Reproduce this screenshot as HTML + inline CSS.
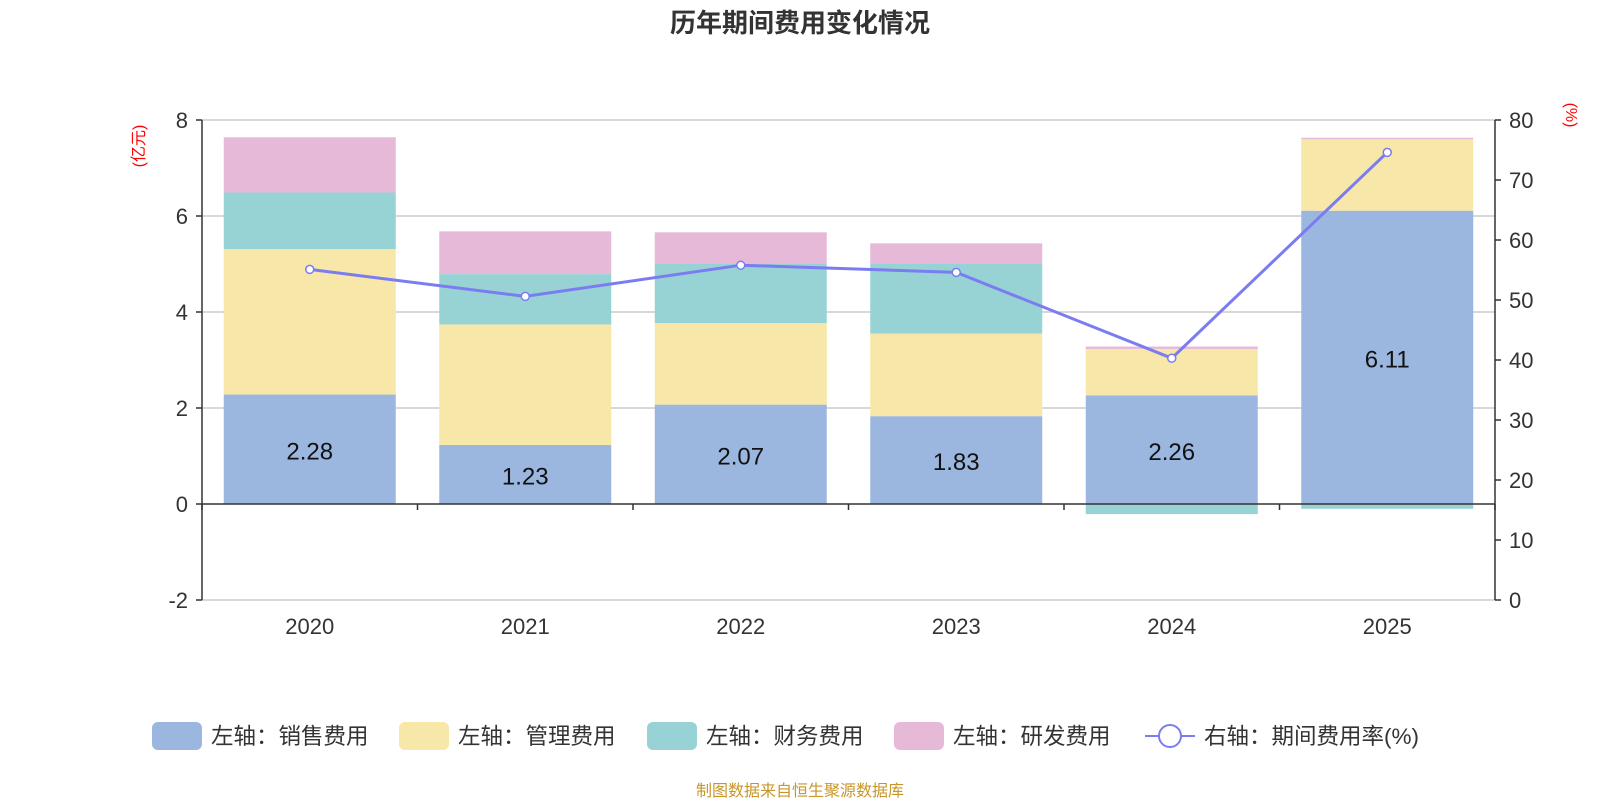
<!DOCTYPE html>
<html><head><meta charset="utf-8"><style>
body{margin:0;width:1600px;height:800px;background:#fff;font-family:"Liberation Sans","Noto Sans CJK SC",sans-serif;overflow:hidden}
</style></head><body>
<svg id="c" width="1600" height="800" style="font-family:'Liberation Sans','Noto Sans CJK SC',sans-serif"></svg>
<script>
const categories=["2020","2021","2022","2023","2024","2025"];
const sales=[2.28,1.23,2.07,1.83,2.26,6.11];
const mgmt=[3.03,2.51,1.70,1.72,0.97,1.49];
const finance=[1.18,1.05,1.23,1.45,-0.21,-0.10];
const rnd=[1.15,0.89,0.66,0.43,0.05,0.03];
const rate=[55.1,50.6,55.8,54.6,40.3,74.6];
const leftTicks=[-2,0,2,4,6,8];
const rightTicks=[0,10,20,30,40,50,60,70,80];
const svg=document.getElementById('c');const NS='http://www.w3.org/2000/svg';
function mk(t,a,p){const e=document.createElementNS(NS,t);for(const k in a)e.setAttribute(k,a[k]);(p||svg).appendChild(e);return e;}
const X0=202,X1=1495,band=(X1-X0)/categories.length,bw=172;
const yL=v=>504-v*48, yR=v=>600-v*6, xc=i=>X0+band*(i+0.5);
let t=mk('text',{x:800,y:32,'text-anchor':'middle','font-size':26,'font-weight':'bold',fill:'#333'});t.textContent='历年期间费用变化情况';

leftTicks.forEach(v=>{
 if(v!==0){const g=mk('line',{x1:X0,x2:X1,y1:yL(v),y2:yL(v),stroke:'#ccc','stroke-width':1.5});}
 mk('line',{x1:X0-6,x2:X0,y1:yL(v),y2:yL(v),stroke:'#333','stroke-width':1.5});
 const l=mk('text',{x:X0-14,y:yL(v)+8,'text-anchor':'end','font-size':22,fill:'#333'});l.textContent=v;
 
});
rightTicks.forEach(v=>{
 mk('line',{x1:X1,x2:X1+6,y1:yR(v),y2:yR(v),stroke:'#333','stroke-width':1.5});
 const l=mk('text',{x:X1+14,y:yR(v)+8,'font-size':22,fill:'#333'});l.textContent=v;
 
});
mk('line',{x1:X0,x2:X0,y1:120,y2:600,stroke:'#333','stroke-width':1.5});
mk('line',{x1:X1,x2:X1,y1:120,y2:600,stroke:'#333','stroke-width':1.5});
let u=mk('text',{transform:'translate(144,146) rotate(-90)','text-anchor':'middle','font-size':16,fill:'red'});u.textContent='(亿元)';

u=mk('text',{transform:'translate(1566,115) rotate(90)','text-anchor':'middle','font-size':16,fill:'red'});u.textContent='(%)';

const series=[[sales,'#9bb7e0','sales'],[mgmt,'#f7e7a8','mgmt'],[finance,'#97d3d4','finance'],[rnd,'#e7b9d8','rnd']];
categories.forEach((c,i)=>{
 let pos=0,neg=0;
 series.forEach(([arr,col,n])=>{
  const v=arr[i];let y0,y1;
  if(v>=0){y0=pos;pos+=v;y1=pos;}else{y0=neg;neg+=v;y1=neg;}
  const r=mk('rect',{x:xc(i)-bw/2,y:Math.min(yL(y0),yL(y1)),width:bw,height:Math.abs(yL(y1)-yL(y0)),fill:col});
  
 });
 const l=mk('text',{x:xc(i),y:yL(sales[i]/2)+10,'text-anchor':'middle','font-size':24,fill:'#111'});l.textContent=sales[i].toFixed(2);
 
 const cl=mk('text',{x:xc(i),y:634,'text-anchor':'middle','font-size':22,fill:'#333'});cl.textContent=c;
 
});
mk('line',{x1:X0,x2:X1,y1:yL(0),y2:yL(0),stroke:'#333','stroke-width':1.5});
for(let i=0;i<=categories.length;i++)mk('line',{x1:X0+band*i,x2:X0+band*i,y1:504,y2:510,stroke:'#333','stroke-width':1.5});
const ln=mk('polyline',{points:rate.map((v,i)=>xc(i)+','+yR(v)).join(' '),fill:'none',stroke:'#7b7cf0','stroke-width':3});

rate.forEach((v,i)=>{const p=mk('circle',{cx:xc(i),cy:yR(v),r:4,fill:'#fff',stroke:'#7b7cf0','stroke-width':1.5});
 });
const leg=[['#9bb7e0','左轴：销售费用',152],['#f7e7a8','左轴：管理费用',399],['#97d3d4','左轴：财务费用',647],['#e7b9d8','左轴：研发费用',894]];
leg.forEach(([col,txt,x])=>{
 const g=mk('g',{});
 mk('rect',{x:x,y:722,width:50,height:28,rx:6,fill:col},g);
 const tt=mk('text',{x:x+59,y:744,'font-size':22.5,fill:'#333'},g);tt.textContent=txt;
});
const g=mk('g',{});
mk('line',{x1:1145,x2:1195,y1:736,y2:736,stroke:'#7b7cf0','stroke-width':2},g);
mk('circle',{cx:1170,cy:736,r:11,fill:'#fff',stroke:'#7b7cf0','stroke-width':2},g);
const tt=mk('text',{x:1204,y:744,'font-size':22.5,fill:'#333'},g);tt.textContent='右轴：期间费用率(%)';
const f=mk('text',{x:800,y:796,'text-anchor':'middle','font-size':16,fill:'#c8962a'});f.textContent='制图数据来自恒生聚源数据库';

</script></body></html>
